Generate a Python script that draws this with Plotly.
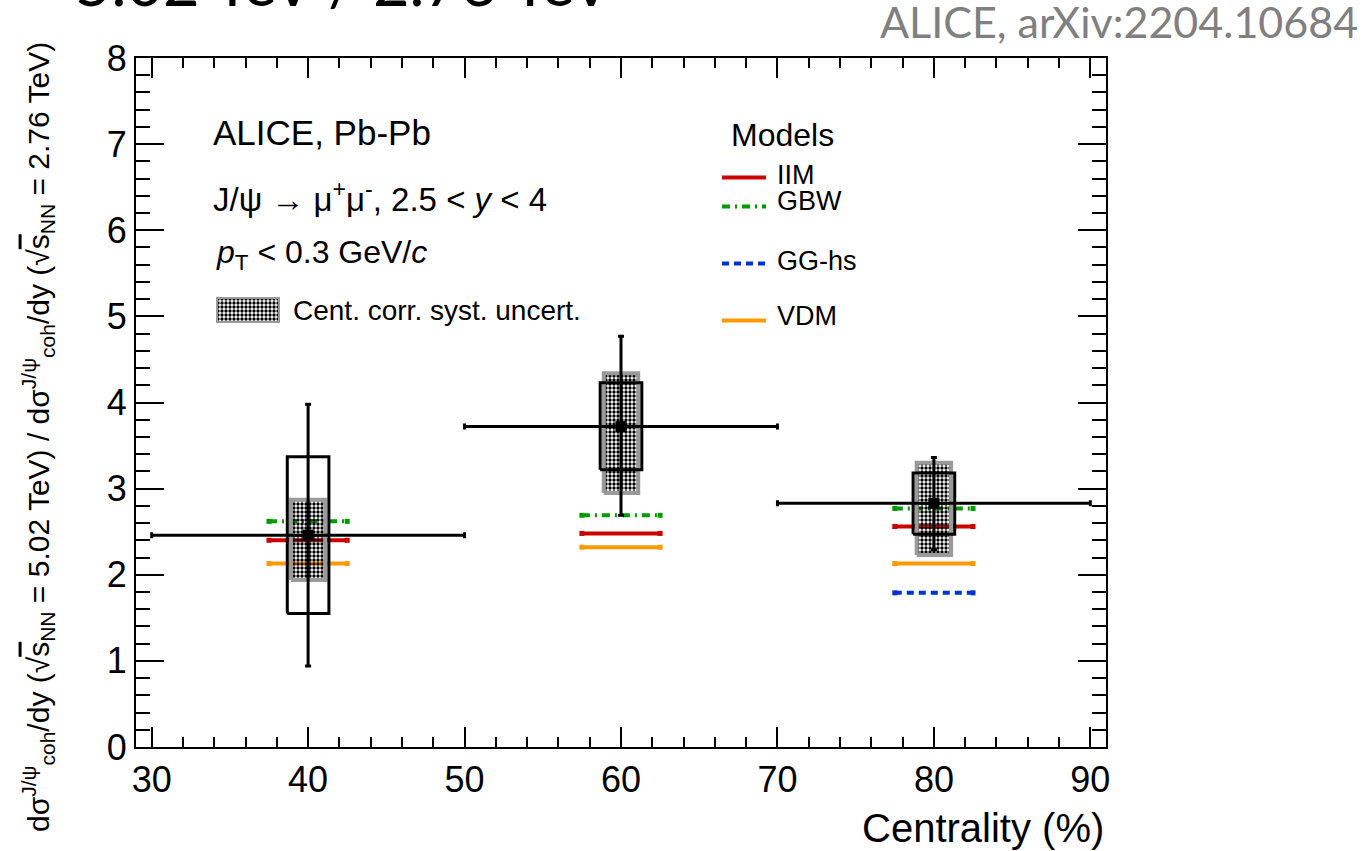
import plotly.graph_objects as go

# ---------------- data ----------------
centrality = [40, 60, 80]
cent_halfwidth = [10, 10, 10]
ratio = [2.46, 3.72, 2.83]
stat_up = [1.52, 1.05, 0.53]
stat_down = [1.52, 1.03, 0.54]
uncorr_syst_up = [0.91, 0.51, 0.35]
uncorr_syst_down = [0.91, 0.50, 0.36]
corr_syst_up = [0.41, 0.62, 0.47]
corr_syst_down = [0.52, 0.77, 0.60]

model_names = ["IIM", "GBW", "GG-hs", "VDM"]
model_iim = [2.40, 2.48, 2.56]
model_gbw = [2.62, 2.69, 2.77]
model_gghs = [None, None, 1.79]
model_vdm = [2.13, 2.32, 2.13]

x_ticks = [30, 40, 50, 60, 70, 80, 90]
y_ticks = [0, 1, 2, 3, 4, 5, 6, 7, 8]

# ---------------- style ----------------
ROOTFONT = "Liberation Sans, Arial, Helvetica, sans-serif"
SLIDEFONT = "Lato, Open Sans, sans-serif"
MODEL_HW = 2.5      # half width of model segments (centrality units)
UNC_HW = 1.33       # half width of uncorrelated syst. box
COR_HW = 1.1        # half width of correlated syst. box
model_styles = {
    "IIM": dict(color="#cc0000", dash="solid"),
    "GBW": dict(color="#009900", dash="8px,5px,2px,5px"),
    "GG-hs": dict(color="#0033cc", dash="7px,5px"),
    "VDM": dict(color="#ff9900", dash="solid"),
}
model_values = {"IIM": model_iim, "GBW": model_gbw, "GG-hs": model_gghs, "VDM": model_vdm}

fig = go.Figure()

# model segments
for name in model_names:
    vals = model_values[name]
    xs, ys, ex, ey = [], [], [], []
    for c, v in zip(centrality, vals):
        if v is None:
            continue
        xs += [c - MODEL_HW, c + MODEL_HW, None]
        ys += [v, v, None]
        ex += [c - MODEL_HW, c + MODEL_HW]
        ey += [v, v]
    st = model_styles[name]
    fig.add_trace(go.Scatter(x=xs, y=ys, mode="lines",
                             line=dict(color=st["color"], width=4, dash=st["dash"]),
                             showlegend=False, hoverinfo="skip"))
    fig.add_trace(go.Scatter(x=ex, y=ey, mode="markers",
                             marker=dict(symbol="square", size=5, color=st["color"]),
                             showlegend=False, hoverinfo="skip"))

# correlated systematic boxes (patterned)
def rect_path(xc, hw, lo, hi):
    return [xc - hw, xc + hw, xc + hw, xc - hw, xc - hw], [lo, lo, hi, hi, lo]

PATTERN = dict(shape=".", size=4, solidity=0.55, fgcolor="black", fillmode="replace")

for c, r, up, dn in zip(centrality, ratio, corr_syst_up, corr_syst_down):
    px, py = rect_path(c, COR_HW, r - dn, r + up)
    fig.add_trace(go.Scatter(x=px, y=py, mode="lines", fill="toself",
                             fillcolor="rgba(0,0,0,0)", fillpattern=PATTERN,
                             line=dict(color="#9a9a9a", width=4),
                             showlegend=False, hoverinfo="skip"))

# uncorrelated systematic boxes (open)
for c, r, up, dn in zip(centrality, ratio, uncorr_syst_up, uncorr_syst_down):
    px, py = rect_path(c, UNC_HW, r - dn, r + up)
    fig.add_trace(go.Scatter(x=px, y=py, mode="lines",
                             line=dict(color="black", width=3),
                             showlegend=False, hoverinfo="skip"))

# data points
fig.add_trace(go.Scatter(
    x=centrality, y=ratio, mode="markers",
    marker=dict(symbol="square", size=11, color="black"),
    error_x=dict(type="data", array=cent_halfwidth, color="black", thickness=3, width=3),
    error_y=dict(type="data", array=stat_up, arrayminus=stat_down, symmetric=False,
                 color="black", thickness=3, width=3),
    showlegend=False, hoverinfo="skip"))

# legend swatch for correlated syst. (on small hidden axes)
fig.add_trace(go.Scatter(x=[0, 1, 1, 0, 0], y=[0, 0, 1, 1, 0], mode="lines", fill="toself",
                         fillcolor="rgba(0,0,0,0)", fillpattern=PATTERN,
                         line=dict(color="#9a9a9a", width=4),
                         xaxis="x2", yaxis="y2", showlegend=False, hoverinfo="skip"))

# ---------------- layout ----------------
L, R, T, B = 136, 258, 58, 104
W, H = 1364, 851
pw, ph = W - L - R, H - T - B

def px2paper(xp, yp):
    return (xp - L) / pw, (H - B - yp) / ph

axis_common = dict(showline=True, linecolor="black", linewidth=2, mirror="ticks",
                   ticks="inside", tickwidth=2, tickcolor="black",
                   showgrid=False, zeroline=False,
                   tickfont=dict(family=ROOTFONT, size=36, color="black"))

fig.update_layout(
    width=W, height=H,
    margin=dict(l=L, r=R, t=T, b=B),
    paper_bgcolor="white", plot_bgcolor="white",
    xaxis=dict(range=[29, 91], tickvals=x_ticks, ticklen=20,
               minor=dict(ticks="inside", dtick=2, ticklen=10, tickwidth=2, tickcolor="black"),
               **axis_common),
    yaxis=dict(range=[0, 8], tickvals=y_ticks, ticklen=28,
               minor=dict(ticks="inside", dtick=0.2, ticklen=14, tickwidth=2, tickcolor="black"),
               **axis_common),
    xaxis2=dict(domain=[(216 - L) / pw, (280 - L) / pw], range=[0, 1], visible=False,
                anchor="y2", fixedrange=True),
    yaxis2=dict(domain=[(H - B - 323) / ph, (H - B - 297) / ph], range=[0, 1], visible=False,
                anchor="x2", fixedrange=True),
    showlegend=False,
)

annotations = []

def add_text(text, xp, yp, size, xanchor="left", yanchor="middle", font=ROOTFONT,
             color="black", angle=0):
    x, y = px2paper(xp, yp)
    annotations.append(dict(text=text, x=x, y=y, xref="paper", yref="paper",
                            xanchor=xanchor, yanchor=yanchor, showarrow=False,
                            textangle=angle, font=dict(family=font, size=size, color=color)))

# slide header text (partially cut off at top)
add_text("5.02 TeV / 2.76 TeV", 73, 21, 63, yanchor="bottom", font=SLIDEFONT)
add_text("ALICE, arXiv:2204.10684", 1360, 22, 43, xanchor="right", font=SLIDEFONT, color="#808080")

# in-plot labels
add_text("ALICE, Pb-Pb", 211, 132, 35)
add_text("J/ψ → μ<sup>+</sup>μ<sup>-</sup>, 2.5 &lt; <i>y</i> &lt; 4", 211, 197, 33)
add_text("<i>p</i><sub>T</sub> &lt; 0.3 GeV/<i>c</i>", 214, 254, 32)
add_text("Cent. corr. syst. uncert.", 291, 310, 28)

# models legend
add_text("Models", 729, 135, 32)
legend_text_y = {"IIM": 175, "GBW": 201, "GG-hs": 261, "VDM": 316}
legend_line_y = {"IIM": 177.5, "GBW": 206.5, "GG-hs": 263.5, "VDM": 320.5}
shapes = []
for name in model_names:
    add_text(name, 775, legend_text_y[name], 27)
    x0, y0 = px2paper(722, legend_line_y[name])
    x1, _ = px2paper(766, legend_line_y[name])
    st = model_styles[name]
    shapes.append(dict(type="line", xref="paper", yref="paper", x0=x0, x1=x1, y0=y0, y1=y0,
                       line=dict(color=st["color"], width=4, dash=st["dash"])))

# axis titles
add_text("Centrality (%)", 1106, 828, 40, xanchor="right")
ytitle = ("dσ<sup>J/ψ</sup><sub>coh</sub>/dy (√<span style='text-decoration:overline'>s</span><sub>NN</sub> = 5.02 TeV) / "
          "dσ<sup>J/ψ</sup><sub>coh</sub>/dy (√<span style='text-decoration:overline'>s</span><sub>NN</sub> = 2.76 TeV)")
add_text(ytitle, 38, 437, 30, xanchor="center", angle=-90)

fig.update_layout(annotations=annotations, shapes=shapes)

fig.write_html("out.html")
